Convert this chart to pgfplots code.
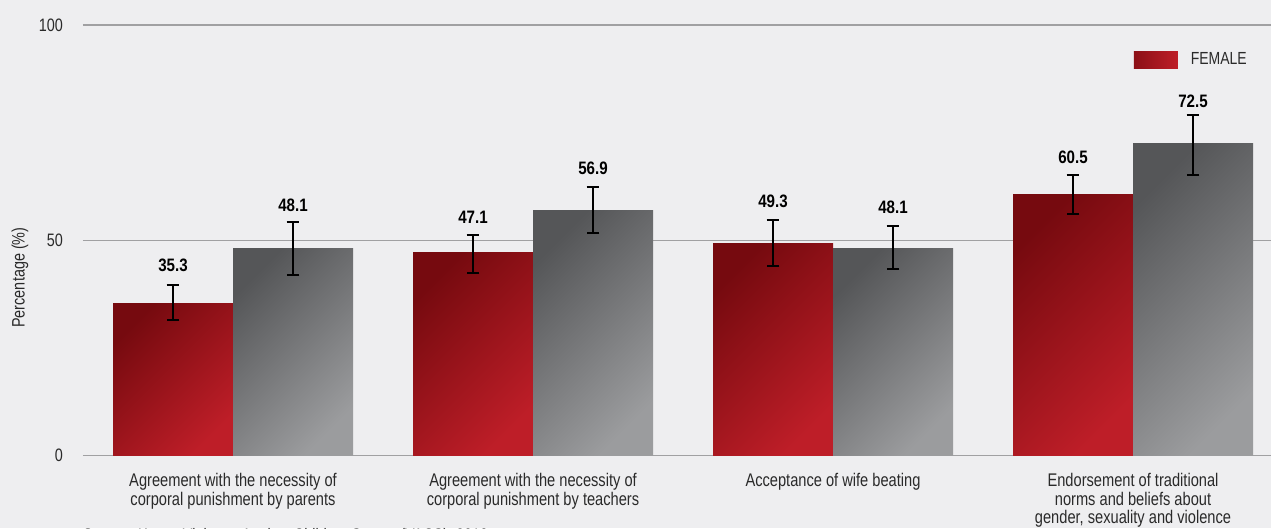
\documentclass[border=0pt]{standalone}
\usepackage{pgfplots}
\pgfplotsset{compat=1.18}
\usepackage{fontspec}
\setmainfont{Liberation Sans}[FakeStretch=0.8]
\newfontfamily\valfont{Liberation Sans}[FakeStretch=0.84]
\definecolor{bg}{HTML}{EEEEF0}
\definecolor{fdark}{HTML}{760A0F}
\definecolor{flight}{HTML}{BE1E28}
\definecolor{mdark}{HTML}{555658}
\definecolor{mlight}{HTML}{9B9C9E}
\definecolor{gridc}{HTML}{A0A0A2}
\definecolor{txt}{HTML}{2A2A2A}
\pgfplotsset{
  fbar/.style={ybar, bar width=120pt, bar shift=-60pt, draw=none, top color=fdark, bottom color=flight, shading angle=45, forget plot},
  mbar/.style={ybar, bar width=120pt, bar shift=60pt, draw=none, top color=mdark, bottom color=mlight, shading angle=45, forget plot},
}
\begin{document}
\begin{tikzpicture}
\fill[bg] (-83pt,-72.7pt) rectangle (1188pt,455.3pt);
\begin{axis}[
  scale only axis, width=1188pt, height=430.3pt,
  xmin=-0.5, xmax=3.46, ymin=0, ymax=100,
  axis line style={draw=none},
  major tick length=0pt,
  ytick={0,50,100},
  ymajorgrids, grid style={gridc, line width=1.2pt},
  xtick={0,1,2,3},
  xticklabels={{Agreement with the necessity of\\corporal punishment by parents},
               {Agreement with the necessity of\\corporal punishment by teachers},
               {Acceptance of wife beating},
               {Endorsement of traditional\\norms and beliefs about\\gender, sexuality and violence}},
  xticklabel style={align=center, font=\fontsize{18.3}{18.3}\selectfont, text=txt, anchor=north, inner sep=0pt, yshift=-18pt},
  yticklabel style={font=\fontsize{18}{20}\selectfont, text=txt, anchor=east, inner sep=0pt, xshift=-20pt},
  /pgf/number format/assume math mode=true,
  ylabel={Percentage (\%)},
  every axis y label/.style={at={(rel axis cs:-0.053,0.413)}, rotate=90, anchor=center, font=\fontsize{18}{20}\selectfont, text=txt},
  legend style={at={(rel axis cs:0.9798,0.9198)}, anchor=east, draw=none, fill=none, inner sep=0pt,
     font=\fontsize{17.5}{20}\selectfont, text=txt, nodes={inner sep=0pt}},
  clip=false,
]
% legend carrier
\addplot[draw=none, mark=none, legend image code/.code={\shade[left color=fdark!70!flight, right color=flight] (0pt,-8.5pt) rectangle (44pt,8.5pt); \path (57pt,0pt);}] coordinates {(0,0)};
\addlegendentry{FEMALE}
% female bars
\addplot[fbar] coordinates {(0,35.3)};
\addplot[fbar] coordinates {(1,47.1)};
\addplot[fbar] coordinates {(2,49.3)};
\addplot[fbar] coordinates {(3,60.5)};
% male bars
\addplot[mbar] coordinates {(0,48.1)};
\addplot[mbar] coordinates {(1,56.9)};
\addplot[mbar] coordinates {(2,48.1)};
\addplot[mbar] coordinates {(3,72.5)};
% error bars
\addplot[forget plot, draw=none, mark=none,
  error bars/.cd, y dir=both, y explicit,
  error bar style={draw=black, line width=2pt},
  error mark options={draw=black, rotate=90, mark size=6.3pt, line width=2pt}]
  coordinates {
  (-0.2,35.3) += (0,4.3) -= (0,3.8)
  (0.2,48.1) += (0,6.1) -= (0,6.1)
  (0.8,47.1) += (0,4.2) -= (0,4.8)
  (1.2,56.9) += (0,5.4) -= (0,5.3)
  (1.8,49.3) += (0,5.3) -= (0,5.4)
  (2.2,48.1) += (0,5.1) -= (0,4.9)
  (2.8,60.5) += (0,4.7) -= (0,4.5)
  (3.2,72.5) += (0,6.6) -= (0,7.3)
  };
% value labels
\addplot[forget plot, draw=none, mark=none, nodes near coords, point meta=explicit symbolic,
  every node near coord/.style={anchor=base, inner sep=0pt, text=black, font=\valfont\bfseries\fontsize{18}{20}\selectfont}]
  coordinates {
  (-0.2,42.8) [35.3]
  (0.2,56.7) [48.1]
  (0.8,53.9) [47.1]
  (1.2,65.3) [56.9]
  (1.8,57.5) [49.3]
  (2.2,56.2) [48.1]
  (2.8,67.9) [60.5]
  (3.2,80.8) [72.5]
  };
\end{axis}
\node[anchor=base west, inner sep=0pt, font=\fontsize{18}{20}\selectfont, text=txt] at (0pt,-86.5pt) {Source: Kenya Violence Against Children Survey (VACS), 2019};
\pgfresetboundingbox
\path (-83pt,-72.7pt) rectangle (1188pt,455.3pt);
\end{tikzpicture}
\end{document}
